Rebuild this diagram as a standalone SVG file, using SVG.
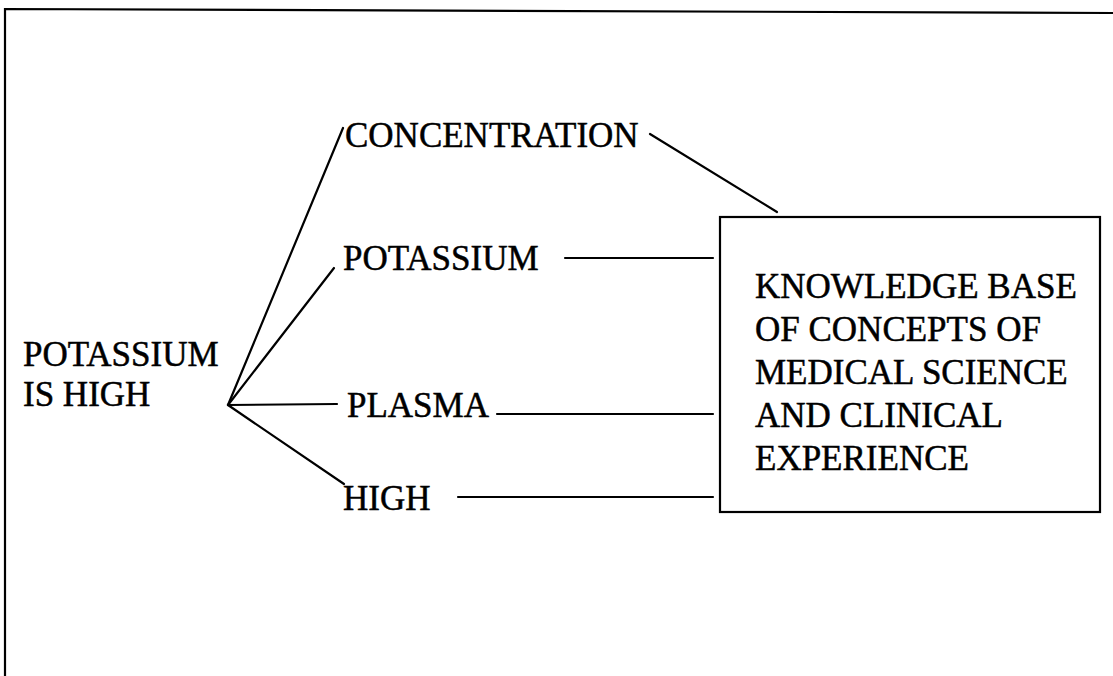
<svg xmlns="http://www.w3.org/2000/svg" width="1113" height="676" viewBox="0 0 1113 676">
  <style>
    text { font-family: "Liberation Serif", "Times New Roman", serif; font-size: 35px; fill: #000; stroke: #000; stroke-width: 0.5; }
    .ln { stroke: #000; stroke-width: 2.2; fill: none; stroke-linecap: round; }
  </style>
  <rect width="1113" height="676" fill="#fff"/>
  <!-- page frame (top and left edges only) -->
  <path class="ln" d="M5,676 L5,9 L1113,13"/>

  <g id="connectors">
    <line class="ln" x1="228" y1="405" x2="343" y2="128"/>
    <line class="ln" x1="228" y1="405" x2="334" y2="268"/>
    <line class="ln" x1="228" y1="405" x2="337" y2="404"/>
    <line class="ln" x1="228" y1="405" x2="344" y2="484"/>
    <line class="ln" x1="650" y1="134" x2="777" y2="212"/>
    <line class="ln" x1="565" y1="258" x2="713" y2="258"/>
    <line class="ln" x1="497" y1="414" x2="713" y2="414"/>
    <line class="ln" x1="458" y1="497" x2="713" y2="497"/>
  </g>

  <g id="statement">
    <text x="23" y="366">POTASSIUM</text>
    <text x="23" y="406">IS HIGH</text>
  </g>
  <g id="concentration"><text x="345" y="147">CONCENTRATION</text></g>
  <g id="potassium"><text x="343" y="270">POTASSIUM</text></g>
  <g id="plasma"><text x="347" y="417">PLASMA</text></g>
  <g id="high"><text x="343" y="510">HIGH</text></g>

  <g id="knowledge-base">
    <rect class="ln" x="720" y="217" width="380" height="295"/>
    <text x="755" y="298">KNOWLEDGE BASE</text>
    <text x="755" y="341">OF CONCEPTS OF</text>
    <text x="755" y="384">MEDICAL SCIENCE</text>
    <text x="755" y="427">AND CLINICAL</text>
    <text x="755" y="470">EXPERIENCE</text>
  </g>
</svg>
